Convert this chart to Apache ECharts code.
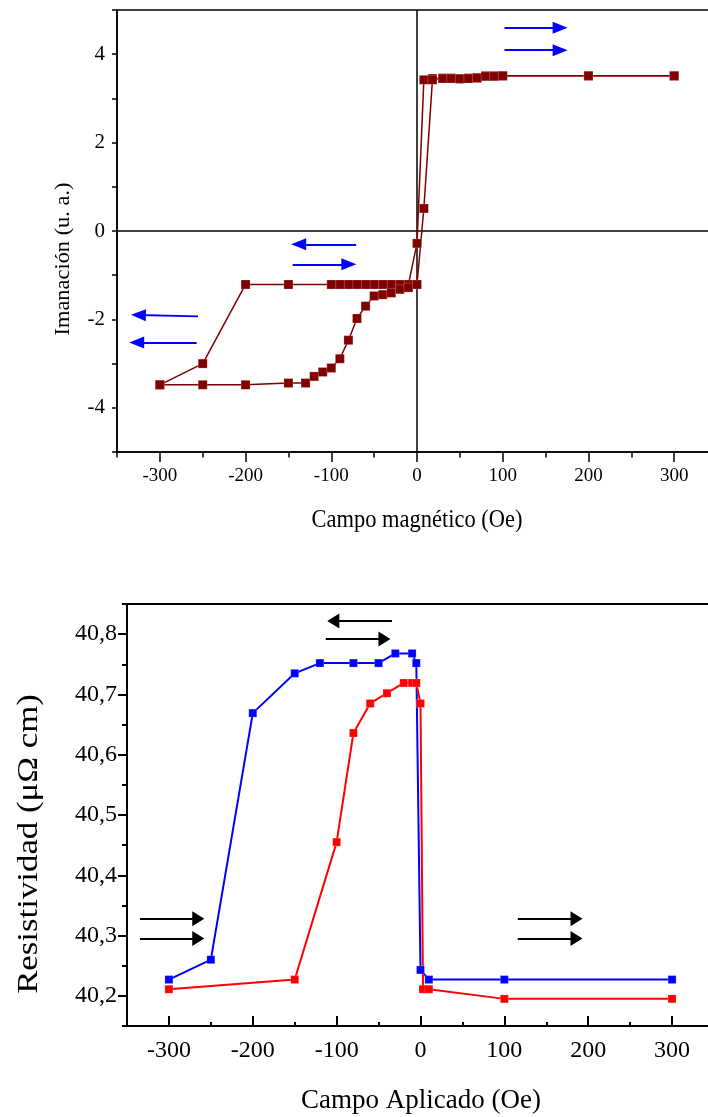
<!DOCTYPE html>
<html>
<head>
<meta charset="utf-8">
<title>Imanación y resistividad</title>
<script src="https://cdn.jsdelivr.net/npm/echarts@6/dist/echarts.min.js"></script>
<style>
html, body { margin:0; padding:0; overflow:hidden; background:#fff; }
#chart { width:720px; height:1117px; }
</style>
</head>
<body>
<div id="chart"></div>
<script>
/*Data from here*/
var fieldTicks = [-300, -200, -100, 0, 100, 200, 300];
var magTicks = [-4, -2, 0, 2, 4];
var resTicks = [40.2, 40.3, 40.4, 40.5, 40.6, 40.7, 40.8];

// imanacion, rama de +300 a -300 Oe
var magDownField = [300, 200, 100, 90, 80, 70, 60, 50, 40, 30, 18, 8, 0, -10, -20, -30, -40, -50, -60, -70, -80, -90, -100, -150, -200, -250, -300];
var magDownValue = [3.51, 3.51, 3.51, 3.51, 3.51, 3.47, 3.46, 3.45, 3.46, 3.46, 3.45, 3.42, -0.28, -1.21, -1.21, -1.21, -1.21, -1.21, -1.21, -1.21, -1.21, -1.21, -1.21, -1.21, -1.21, -3.00, -3.48];

// imanacion, rama de -300 a +300 Oe
var magUpField = [-300, -250, -200, -150, -130, -120, -110, -100, -90, -80, -70, -60, -50, -40, -30, -20, -10, 0, 8, 18, 30, 40, 50, 60, 70, 80, 90, 100, 200, 300];
var magUpValue = [-3.48, -3.48, -3.48, -3.44, -3.44, -3.29, -3.19, -3.10, -2.89, -2.47, -1.98, -1.70, -1.47, -1.44, -1.40, -1.32, -1.28, -1.21, 0.51, 3.42, 3.45, 3.45, 3.44, 3.45, 3.46, 3.50, 3.50, 3.51, 3.51, 3.51];

// resistividad
var resBlueField = [-300, -250, -200, -150, -120, -80, -50, -30, -10, -5, 0, 10, 100, 300];
var resBlueValue = [40.227, 40.260, 40.669, 40.735, 40.752, 40.752, 40.752, 40.768, 40.768, 40.752, 40.243, 40.227, 40.227, 40.227];
var resRedField = [-300, -150, -100, -80, -60, -40, -20, -10, -5, 0, 3, 10, 100, 300];
var resRedValue = [40.211, 40.227, 40.455, 40.636, 40.685, 40.702, 40.719, 40.719, 40.719, 40.685, 40.211, 40.211, 40.195, 40.195];

// flechas: x inicio, y inicio, x y y del centro de la punta
var magArrows = [
    [102, 4.60, 167, 4.60],
    [102, 4.09, 167, 4.09],
    [-71, -0.30, -138, -0.30],
    [-145, -0.755, -79.5, -0.755],
    [-255.5, -1.93, -325, -1.90],
    [-257, -2.52, -327, -2.52]
];
var resArrows = [
    [-34, 40.822, -104, 40.822],
    [-113, 40.792, -43, 40.792],
    [-334.5, 40.328, -265, 40.328],
    [-334.5, 40.295, -265, 40.295],
    [116, 40.328, 186, 40.328],
    [116, 40.295, 186, 40.295]
];

/*Helpers from here*/
var serif = '"Liberation Serif", "Times New Roman", serif';

function pairs(xs, ys){
    return xs.map(function(x, i){ return [x, ys[i]]; });
}

function arrowLines(list){
    return list.map(function(a){
        return [{coord:[a[0], a[1]]}, {coord:[a[2], a[3]]}];
    });
}

function fieldLabel(v){
    return v % 100 === 0 ? String(v) : '';
}

function magLabel(v){
    return v % 2 === 0 ? String(v) : '';
}

function resLabel(v){
    var k = Math.round(v * 100);
    return k % 10 === 0 ? (k / 100).toFixed(1).replace('.', ',') : '';
}

function lineSeries(xs, ys, color, width, size, xi, yi){
    return {
        type:'line',
        xAxisIndex:xi,
        yAxisIndex:yi,
        data:pairs(xs, ys),
        symbol:'rect',
        symbolSize:size,
        showSymbol:true,
        lineStyle:{color:color, width:width},
        itemStyle:{color:color, borderColor:'rgba(255,255,255,0.35)', borderWidth:0.6},
        z:3
    };
}

function title(text, x, y, size, rotate, sx, sy){
    return {
        type:'text', x:x, y:y, rotation:rotate ? Math.PI / 2 : 0,
        scaleX:sx || 1, scaleY:sy || 1,
        style:{text:text, fill:'#000', font:size + 'px ' + serif, textAlign:'center', textVerticalAlign:'middle'}
    };
}

/*Chart from here*/
var myChart = echarts.init(document.getElementById('chart'), null, {renderer:'canvas'});

var black = {color:'#000', width:1.5};

var option = {
    animation:false,
    backgroundColor:'#fff',
    grid:[
        {left:117, top:10, width:602, height:442, show:true, borderColor:'#000', borderWidth:1.5},
        {left:127, top:604, width:587, height:422, show:true, borderColor:'#000', borderWidth:2}
    ],
    xAxis:[
        {
            gridIndex:0, type:'value', position:'bottom', min:-350, max:350, interval:50,
            splitLine:{show:false},
            axisLine:{onZero:false, lineStyle:black},
            axisTick:{length:10, lineStyle:black, customValues:fieldTicks},
            axisLabel:{formatter:fieldLabel, margin:15, color:'#000', fontFamily:serif, fontSize:19}
        },
        {
            gridIndex:0, type:'value', position:'bottom', min:-350, max:350, interval:50,
            splitLine:{show:false},
            axisLine:{show:false, onZero:false},
            axisTick:{length:5.5, lineStyle:black},
            axisLabel:{show:false}
        },
        {
            gridIndex:1, type:'value', position:'bottom', min:-350, max:350, interval:50,
            splitLine:{show:false},
            axisLine:{onZero:false, lineStyle:{color:'#000', width:2}},
            axisTick:{inside:true, length:10, lineStyle:{color:'#000', width:2}, customValues:fieldTicks},
            axisLabel:{formatter:fieldLabel, margin:13, color:'#000', fontFamily:serif, fontSize:24}
        },
        {
            gridIndex:1, type:'value', position:'bottom', min:-350, max:350, interval:50,
            splitLine:{show:false},
            axisLine:{show:false, onZero:false},
            axisTick:{inside:true, length:4, lineStyle:{color:'#000', width:2}},
            axisLabel:{show:false}
        }
    ],
    yAxis:[
        {
            gridIndex:0, type:'value', position:'left', min:-5, max:5, interval:1,
            splitLine:{show:false},
            axisLine:{onZero:false, lineStyle:black},
            axisTick:{length:5, lineStyle:black},
            axisLabel:{formatter:magLabel, margin:12, color:'#000', fontFamily:serif, fontSize:21}
        },
        {
            gridIndex:1, type:'value', position:'left', min:40.15, max:40.85, interval:0.05,
            splitLine:{show:false},
            axisLine:{onZero:false, lineStyle:{color:'#000', width:2}},
            axisTick:{length:9, lineStyle:{color:'#000', width:2}, customValues:resTicks},
            axisLabel:{formatter:resLabel, margin:10, color:'#000', fontFamily:serif, fontSize:24}
        },
        {
            gridIndex:1, type:'value', position:'left', min:40.15, max:40.85, interval:0.05,
            splitLine:{show:false},
            axisLine:{show:false, onZero:false},
            axisTick:{length:5, lineStyle:{color:'#000', width:2}},
            axisLabel:{show:false}
        }
    ],
    graphic:[
        title('Imanación (u. a.)', 63, 259, 20, true, 1.12, 1.1),
        title('Campo magnético (Oe)', 417, 521, 21, false, 1.07, 1.15),
        title('Resistividad (μΩ cm)', 29, 844, 29, true, 1.2, 1),
        title('Campo Aplicado (Oe)', 421, 1101, 27, false, 1, 1)
    ],
    series:[]
};

var magDown = lineSeries(magDownField, magDownValue, '#800000', 1.5, 9, 0, 0);
magDown.markLine = {
    silent:true, symbol:'none', label:{show:false},
    lineStyle:{color:'#000', width:1.5, type:'solid'},
    data:[{xAxis:0}, {yAxis:0}],
    z:1
};
var magUp = lineSeries(magUpField, magUpValue, '#800000', 1.5, 9, 0, 0);
magUp.markLine = {
    silent:true, symbol:['none', 'triangle'], symbolSize:[12, 15], label:{show:false},
    lineStyle:{color:'#0000ff', width:1.8, type:'solid'},
    itemStyle:{color:'#0000ff'},
    data:arrowLines(magArrows)
};

var resBlue = lineSeries(resBlueField, resBlueValue, '#0000ff', 2, 8, 2, 1);
var resRed = lineSeries(resRedField, resRedValue, '#ff0000', 2, 8, 2, 1);
resRed.markLine = {
    silent:true, symbol:['none', 'triangle'], symbolSize:[15, 12], label:{show:false},
    lineStyle:{color:'#000', width:2, type:'solid'},
    itemStyle:{color:'#000'},
    data:arrowLines(resArrows)
};

option.series = [magDown, magUp, resBlue, resRed];
myChart.setOption(option);
</script>
</body>
</html>
